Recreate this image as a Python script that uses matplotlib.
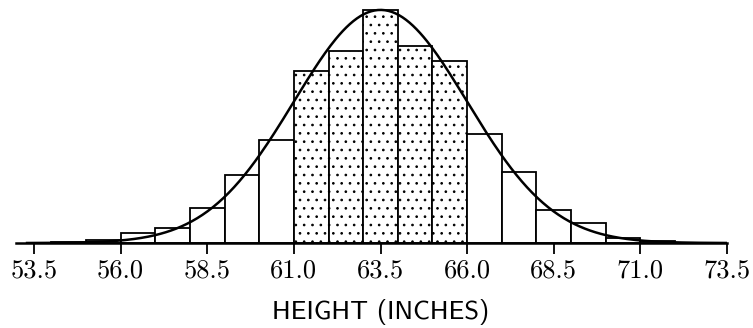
import numpy as np
import matplotlib.pyplot as plt

# bin left edges (inches) and bar heights (per cent per inch)
edges = [54, 55, 56, 57, 58, 59, 60, 61, 62, 63, 64, 65, 66, 67, 68, 69, 70, 71]
heights = [0.05, 0.18, 0.66, 1.0, 2.4, 4.65, 7.05, 11.8, 13.15, 15.95,
           13.5, 12.45, 7.45, 4.85, 2.25, 1.35, 0.32, 0.14]
shaded = [61, 62, 63, 64, 65]
mean, sd = 63.5, 2.5
ticks = [53.5, 56.0, 58.5, 61.0, 63.5, 66.0, 68.5, 71.0, 73.5]

plt.rcParams['hatch.linewidth'] = 0.7
plt.rcParams['hatch.color'] = '#222222'
fig = plt.figure(figsize=(7.53, 3.28), dpi=100)
ax = fig.add_axes([0.0212, 0.259, 0.9443, 0.726])

for e, h in zip(edges, heights):
    ax.bar(e, h, width=1.0, align='edge', facecolor='white',
           edgecolor='black', linewidth=1.3,
           hatch='..' if e in shaded else None, zorder=2)

xs = np.linspace(53.3, 73.5, 400)
ys = 100 * np.exp(-(xs - mean) ** 2 / (2 * sd ** 2)) / (sd * np.sqrt(2 * np.pi))
ax.plot(xs, ys, color='black', linewidth=1.8, zorder=3)

ax.set_xlim(52.98, 73.5)
ax.set_ylim(0, 16.3)
for s in ['left', 'right', 'top']:
    ax.spines[s].set_visible(False)
ax.spines['bottom'].set_linewidth(1.8)
ax.set_yticks([])
ax.set_xticks(ticks)
ax.set_xticklabels(['%.1f' % t for t in ticks], fontfamily='cmr10', fontsize=19)
ax.tick_params(axis='x', direction='out', length=8, width=1.3, pad=3)
ax.set_xlabel('HEIGHT (INCHES)', fontfamily='cmss10', fontsize=19, labelpad=12, x=0.513)

fig.savefig('out.png', dpi=100)
